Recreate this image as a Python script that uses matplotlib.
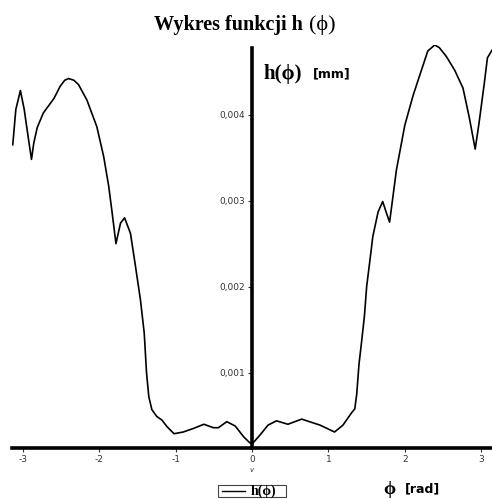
import matplotlib
matplotlib.use('Agg')
import matplotlib.pyplot as plt
from matplotlib.lines import Line2D
from matplotlib.patches import Rectangle

# phi [rad], h [mm]
phi = [-3.13, -3.09, -3.03, -2.98, -2.93, -2.885, -2.855, -2.81, -2.73, -2.59,
       -2.51, -2.45, -2.40, -2.33, -2.27, -2.16, -2.03, -1.94, -1.875, -1.83,
       -1.78, -1.72, -1.667, -1.59, -1.53, -1.46, -1.41, -1.38, -1.35, -1.31,
       -1.245, -1.18, -1.11, -1.02, -0.90, -0.77, -0.63, -0.505, -0.44, -0.33,
       -0.22, -0.11, -0.03, 0.0, 0.10, 0.21, 0.32, 0.47, 0.65, 0.89,
       1.08, 1.19, 1.30, 1.345, 1.37, 1.40, 1.43, 1.47, 1.50, 1.56, 1.58,
       1.65, 1.71, 1.75, 1.80, 1.89, 2.00, 2.11, 2.24, 2.30, 2.39,
       2.45, 2.54, 2.65, 2.76, 2.84, 2.92, 2.97, 3.04, 3.08, 3.14]
h = [0.00365, 0.00406, 0.00428, 0.00406, 0.00375, 0.00348, 0.00367, 0.00385, 0.00402, 0.00419,
     0.00433, 0.00440, 0.00442, 0.00440, 0.00435, 0.00417, 0.00386, 0.00351, 0.00317, 0.00286,
     0.00250, 0.00274, 0.00280, 0.00262, 0.00227, 0.00185, 0.00146, 0.00100, 0.00072, 0.00057,
     0.00049, 0.00045, 0.00037, 0.00029, 0.00031, 0.00035, 0.00040, 0.00036, 0.00036, 0.00043,
     0.00038, 0.000255, 0.000185, 0.00017, 0.00027, 0.00039, 0.00044, 0.00040, 0.00046, 0.00039,
     0.00031, 0.00039, 0.00053, 0.00058, 0.00075, 0.00110, 0.00133, 0.00165, 0.00200, 0.00243, 0.00258,
     0.00287, 0.00299, 0.00288, 0.00275, 0.00336, 0.00388, 0.00423, 0.00458, 0.00474, 0.00481,
     0.00478, 0.00468, 0.00452, 0.00431, 0.00398, 0.00360, 0.00390, 0.00437, 0.00466, 0.00475]

x_ticks = [-3, -2, -1, 0, 1, 2, 3]
y_ticks = [0.001, 0.002, 0.003, 0.004]
y_labels = ['0,001', '0,002', '0,003', '0,004']

plt.rcParams['axes.unicode_minus'] = False
serif = ['Liberation Serif', 'DejaVu Serif']

fig = plt.figure(figsize=(4.92, 4.99), dpi=100)
ax = fig.add_axes([12 / 492, 51 / 499, 480 / 492, 403 / 499])

ax.plot(phi, h, color='black', lw=1.2, solid_joinstyle='round')
ax.set_xlim(-3.14, 3.14)
ax.set_ylim(0.000124, 0.00481)

# osie przez punkt (0, ymin)
ax.spines['top'].set_visible(False)
ax.spines['right'].set_visible(False)
ax.spines['left'].set_position(('data', 0))
ax.spines['left'].set_bounds(0.000124, 0.00478)
ax.spines['left'].set_linewidth(2.6)
ax.spines['bottom'].set_linewidth(2.6)

ax.set_xticks(x_ticks)
ax.set_xticklabels([str(t) for t in x_ticks])
ax.set_yticks(y_ticks)
ax.set_yticklabels(y_labels)
ax.tick_params(axis='both', direction='out', length=3, width=0.8,
               labelsize=6.5, labelcolor='#333333', color='#333333', pad=2)

# tytul: pogrubiona czesc + zwykle (phi)
fig.text(303 / 492, 1 - 25 / 499, 'Wykres funkcji h', ha='right', va='center',
         family=serif, fontweight='bold', fontsize=14.5)
fig.text(309 / 492, 1 - 25 / 499, '(ϕ)', ha='left', va='center',
         family=serif, fontsize=16)

# opis osi y
fig.text(263 / 492, 1 - 74 / 499, 'h(ϕ)', ha='left', va='center',
         family=serif, fontweight='bold', fontsize=15)
fig.text(313 / 492, 1 - 74 / 499, '[mm]', ha='left', va='center',
         family='DejaVu Sans', fontweight='bold', fontsize=9)

# opis osi x
fig.text(383 / 492, 1 - 489 / 499, 'ϕ', ha='left', va='center',
         family=serif, fontweight='bold', fontsize=14)
fig.text(405 / 492, 1 - 489 / 499, '[rad]', ha='left', va='center',
         family='DejaVu Sans', fontweight='bold', fontsize=9)

fig.text(252 / 492, 1 - 470 / 499, 'v', ha='center', va='center',
         fontsize=5, color='#333333', style='italic')

# legenda rysowana recznie
fig.patches.append(Rectangle((218 / 492, 1 - 497 / 499), 68 / 492, 12 / 499,
                             transform=fig.transFigure, facecolor='white',
                             edgecolor='#444444', lw=0.8))
fig.lines.append(Line2D([222 / 492, 245 / 492], [1 - 491 / 499, 1 - 491 / 499],
                        transform=fig.transFigure, color='black', lw=1.0))
fig.text(251 / 492, 1 - 491 / 499, 'h(ϕ)', ha='left', va='center',
         family=serif, fontweight='bold', fontsize=10)

plt.savefig('out.png', dpi=100)
